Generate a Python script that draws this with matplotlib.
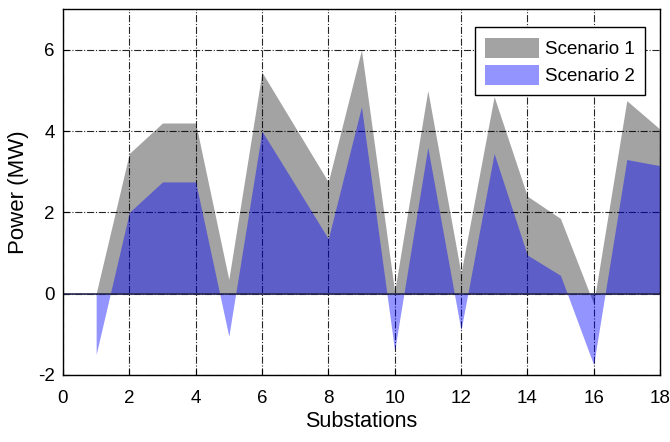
import matplotlib.pyplot as plt
import numpy as np

plt.rcParams['font.family'] = ['Liberation Sans', 'DejaVu Sans']
plt.rcParams['axes.unicode_minus'] = False

substations = [1, 2, 3, 4, 5, 6, 7, 8, 9, 10, 11, 12, 13, 14, 15, 16, 17, 18]
scenario_1 = [0.0, 3.45, 4.2, 4.2, 0.35, 5.45, 4.1, 2.75, 6.0, 0.05,
              5.0, 0.5, 4.85, 2.4, 1.85, -0.25, 4.75, 4.05]
scenario_2 = [-1.5, 2.0, 2.75, 2.75, -1.05, 4.0, 2.68, 1.35, 4.6, -1.4,
              3.6, -0.9, 3.45, 0.95, 0.45, -1.75, 3.3, 3.15]

x_ticks = np.arange(0, 19, 2)
y_ticks = [-2, 0, 2, 4, 6]

fig = plt.figure(figsize=(6.7, 4.42), dpi=100)
ax = fig.add_axes([0.094, 0.152, 0.891, 0.827])

ax.fill_between(substations, 0, scenario_1, color='#a3a3a3', linewidth=0,
                zorder=1, label='Scenario 1')
ax.fill_between(substations, 0, scenario_2, color='#0000ff', alpha=0.42,
                linewidth=0, zorder=3, label='Scenario 2')
ax.axhline(0, color='#26264d', linewidth=1.2, zorder=4)

ax.set_xlim(0, 18)
ax.set_ylim(-2, 7)
ax.set_xticks(x_ticks)
ax.set_yticks(y_ticks)
ax.grid(True, color='black', linestyle='-.', linewidth=0.8, alpha=0.85, zorder=2)
ax.set_axisbelow(False)
ax.tick_params(direction='in', labelsize=13.5, length=4)
ax.tick_params(axis='x', pad=11)
ax.tick_params(axis='y', pad=6)
for spine in ax.spines.values():
    spine.set_linewidth(1.0)
    spine.set_zorder(5)

ax.set_xlabel('Substations', fontsize=15.5, labelpad=3)
ax.set_ylabel('Power (MW)', fontsize=16, labelpad=6)

leg = ax.legend(loc='upper right', bbox_to_anchor=(0.975, 0.951),
                borderaxespad=0, fontsize=13.5, fancybox=False,
                edgecolor='black', framealpha=1, handlelength=2.9,
                handleheight=1.3, borderpad=0.55, labelspacing=0.35,
                handletextpad=0.3)
leg.get_frame().set_linewidth(1.0)
leg.set_zorder(6)

fig.savefig('out.png', dpi=100)
